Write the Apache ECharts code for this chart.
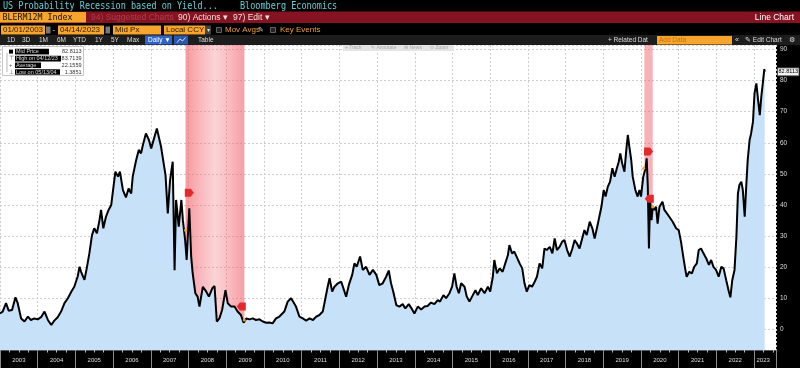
<!DOCTYPE html>
<html><head><meta charset="utf-8">
<script src="https://cdn.jsdelivr.net/npm/echarts@6/dist/echarts.min.js"></script>
<style>html,body{margin:0;padding:0;background:#000}#c{width:800px;height:368px}</style>
</head><body><div id="c"></div><script>
// ---- data (decimal years) ----
const dates = [
 2003.00,2003.07,2003.16,2003.23,2003.32,2003.41,2003.47,2003.56,2003.65,2003.74,2003.82,2003.91,
 2004.00,2004.09,2004.18,2004.27,2004.36,2004.44,2004.53,2004.62,2004.71,2004.80,2004.89,2004.97,
 2005.06,2005.11,2005.15,2005.24,2005.30,2005.37,2005.44,2005.50,2005.57,2005.64,2005.68,2005.74,2005.81,2005.88,2005.95,
 2006.01,2006.06,2006.13,2006.18,2006.26,2006.34,2006.41,2006.48,2006.52,2006.61,2006.68,2006.74,2006.80,2006.87,2006.95,
 2007.01,2007.05,2007.16,2007.27,2007.39,2007.45,2007.51,2007.58,2007.63,2007.67,2007.74,2007.81,2007.85,2007.91,2007.95,
 2008.02,2008.07,2008.11,2008.18,2008.24,2008.29,2008.38,2008.47,2008.54,2008.63,2008.69,2008.75,2008.82,2008.89,2008.98,
 2009.04,2009.13,2009.22,2009.30,2009.39,2009.46,2009.53,2009.62,2009.70,2009.79,2009.88,2009.97,
 2010.06,2010.15,2010.23,2010.32,2010.41,2010.54,2010.63,2010.72,2010.76,2010.85,2010.94,
 2011.03,2011.12,2011.21,2011.30,2011.39,2011.47,2011.56,2011.63,2011.69,2011.74,2011.81,2011.87,2011.96,
 2012.05,2012.09,2012.18,2012.25,2012.34,2012.40,2012.46,2012.55,2012.62,2012.71,2012.80,2012.89,2012.98,
 2013.06,2013.15,2013.24,2013.31,2013.37,2013.43,2013.51,2013.59,2013.68,2013.75,2013.84,2013.93,2013.99,
 2014.08,2014.17,2014.26,2014.34,2014.43,2014.52,2014.61,2014.67,2014.76,2014.83,2014.92,2014.99,
 2015.05,2015.11,2015.17,2015.23,2015.32,2015.38,2015.45,2015.54,2015.61,2015.67,2015.76,2015.85,2015.94,
 2016.00,2016.07,2016.11,2016.18,2016.25,2016.33,2016.40,2016.47,2016.51,2016.58,2016.64,2016.70,2016.78,2016.85,2016.91,2016.97,
 2017.04,2017.11,2017.18,2017.24,2017.31,2017.38,2017.44,2017.50,2017.58,2017.65,2017.71,2017.77,2017.84,2017.91,2017.97,
 2018.04,2018.11,2018.18,2018.24,2018.30,2018.37,2018.44,2018.50,2018.56,2018.64,2018.71,2018.77,2018.83,2018.90,2018.95,
 2019.01,2019.06,2019.12,2019.18,2019.24,2019.30,2019.36,2019.41,2019.45,2019.50,2019.56,2019.61,2019.65,2019.69,2019.74,2019.78,2019.85,2019.91,2019.96,
 2020.00,2020.06,2020.12,2020.15,2020.18,2020.21,2020.24,2020.28,2020.31,2020.36,2020.40,2020.44,2020.49,2020.57,2020.62,2020.66,2020.75,2020.84,2020.93,
 2021.00,2021.06,2021.12,2021.17,2021.21,2021.28,2021.35,2021.41,2021.48,2021.53,2021.59,2021.66,2021.73,2021.80,2021.86,2021.92,2021.99,
 2022.06,2022.13,2022.19,2022.26,2022.33,2022.37,2022.42,2022.48,2022.53,2022.57,2022.61,2022.66,2022.70,2022.75,2022.79,2022.83,2022.88,2022.92,2022.97,
 2023.01,2023.06,2023.10,2023.15,2023.19,2023.23,2023.27,2023.28
];
const values = [
 5.1,5.7,8.4,6.0,6.2,10.3,8.4,3.5,2.5,4.1,3.0,3.5,
 3.2,3.9,5.7,3.0,1.39,2.8,3.9,5.7,8.4,10.0,12.1,13.7,
 17.0,20.1,18.5,15.9,19.6,24.4,30.3,32.5,30.9,35.2,38.4,32.5,36.2,38.4,40.0,
 45.9,50.7,49.1,50.7,44.8,42.4,45.3,43.7,49.1,54.4,57.7,56.6,59.8,63.0,60.9,
 58.2,57.7,64.6,58.8,49.6,37.3,48.0,53.9,19.0,41.6,33.0,41.6,35.1,28.7,22.3,
 38.9,23.4,18.0,11.6,10.5,7.3,13.7,12.1,10.5,13.2,13.9,2.5,3.5,6.2,12.6,
 8.4,7.3,7.3,5.7,4.6,2.1,3.5,3.2,3.5,3.0,3.2,2.5,
 2.1,2.2,1.9,3.5,4.1,5.7,8.9,10.0,9.4,7.3,4.1,
 3.5,2.8,3.5,3.0,4.1,4.6,5.7,10.0,13.7,16.4,12.1,13.7,14.8,
 15.3,15.8,10.5,14.2,17.5,21.2,20.1,23.4,19.1,20.1,17.5,19.1,17.5,
 14.2,14.8,16.9,18.9,14.8,12.1,7.8,7.3,8.1,6.7,8.1,6.4,5.1,
 7.3,6.4,7.3,7.5,8.6,8.1,9.4,8.9,11.0,10.0,11.6,13.7,
 18.0,13.7,11.6,14.8,13.7,10.5,8.9,11.0,12.6,11.0,13.2,11.6,13.7,
 12.1,16.9,22.3,18.0,19.6,18.5,21.2,23.9,27.1,24.4,25.0,23.4,21.2,19.6,14.8,12.1,
 14.2,13.7,15.3,16.9,21.2,19.6,26.0,25.5,26.5,24.4,29.2,25.5,26.5,28.2,28.7,
 25.5,23.4,26.0,28.7,27.6,26.0,29.2,31.9,30.3,34.6,32.5,29.2,32.5,36.5,39.4,
 44.8,42.7,45.9,47.5,51.8,49.1,51.8,53.9,56.6,53.4,50.7,57.7,62.5,58.8,54.5,49.1,44.8,42.7,44.8,
 42.7,49.1,51.8,55.0,45.9,26.0,41.6,35.1,39.4,38.4,39.4,34.0,39.4,41.0,38.4,38.9,36.2,34.6,32.5,
 31.9,28.2,23.4,19.6,16.9,18.5,18.0,20.1,21.2,25.5,26.0,24.4,22.8,20.7,22.3,20.1,19.1,
 16.9,20.1,19.6,15.8,12.1,10.3,15.8,19.1,29.8,43.7,46.4,47.5,44.8,36.2,45.9,54.5,60.9,63.0,66.8,
 75.9,79.1,74.3,68.9,74.8,79.1,83.71,82.81
];
const yearLabels = [2003,2004,2005,2006,2007,2008,2009,2010,2011,2012,2013,2014,2015,2016,2017,2018,2019,2020,2021,2022,2023];
const yTickLabels = [0,10,20,30,40,50,60,70,80,90];
const recessions = [[2007.92, 2009.48], [2020.09, 2020.31]];
const eventFlags = [[2008.02, 43.9, 'r'], [2009.40, 7.3, 'l'], [2020.20, 57.2, 'r'], [2020.22, 42.0, 'l']];
const eventDots = [[2007.92, 31.9], [2009.48, 3.0], [2020.07, 51.8], [2020.31, 39.3]];
const legendRows = [['Mid Price', '82.8113'], ['High on 04/12/23', '83.7139'], ['Average', '22.1559'], ['Low on 05/13/04', '1.3851']];
const lastValue = 82.8113;
const lastDate = 2023.28;

const seriesData = dates.map((d, i) => [d, values[i]]);
const SANS = 'Liberation Sans, Arial, sans-serif';
const MONO = 'DejaVu Sans Mono, monospace';

const chart = echarts.init(document.getElementById('c'));
const bandGrad = new echarts.graphic.LinearGradient(0, 0, 1, 0, [
  {offset: 0, color: 'rgba(240,85,95,0.60)'},
  {offset: 0.5, color: 'rgba(242,110,120,0.30)'},
  {offset: 1, color: 'rgba(240,85,95,0.57)'}
]);
const RIGHT_FLAG = 'path://M0,0L6,0L9,4L6,8L0,8Z';
const LEFT_FLAG = 'path://M3,0L9,0L9,8L3,8L0,4Z';

chart.setOption({
  animation: false,
  backgroundColor: '#000',
  grid: {left: 0, right: 24, top: 45, bottom: 18, show: true, backgroundColor: '#fff', borderWidth: 0},
  xAxis: {
    type: 'value', min: 2003, max: 2023.58, interval: 1,
    axisLine: {show: true, onZero: false, lineStyle: {color: '#555'}},
    axisTick: {show: true, length: 18, lineStyle: {color: '#8a8a8a'}},
    minorTick: {show: true, splitNumber: 4, length: 2.5, lineStyle: {color: '#bbb'}},
    splitLine: {show: true, lineStyle: {color: '#cfcfcf', type: [2, 2], width: 1}},
    axisLabel: {
      margin: 7, color: '#ddd', fontSize: 6, fontFamily: SANS,
      formatter: v => {
        const y = Math.round(v);
        if (Math.abs(v - y) > 1e-6 || yearLabels.indexOf(y) < 0) return '';
        return y === 2023 ? '{b|' + y + '}' : '{a|' + y + '}';
      },
      rich: {
        a: {padding: [0, 0, 0, 37.7], color: '#ddd', fontSize: 6, fontFamily: SANS},
        b: {padding: [0, 0, 0, 18], color: '#ddd', fontSize: 6, fontFamily: SANS}
      }
    }
  },
  yAxis: {
    type: 'value', position: 'right', min: -6.66, max: 91.45, minInterval: 10, maxInterval: 10,
    axisLine: {show: false}, axisTick: {show: false},
    splitLine: {show: true, lineStyle: {color: '#cfcfcf', type: [2, 2], width: 1}},
    axisLabel: {
      margin: 4, color: '#ddd', fontSize: 6.5, fontFamily: SANS,
      formatter: v => {
        const r = Math.round(v);
        return (Math.abs(v - r) < 1e-6 && yTickLabels.indexOf(r) >= 0) ? String(r) : '';
      }
    }
  },
  series: [
    {type: 'line', name: 'fill', data: seriesData, symbol: 'none', silent: true, z: 1,
     lineStyle: {width: 0, color: '#c7e1f9'}, areaStyle: {color: '#c7e1f9', opacity: 1, origin: 'start'}},
    {type: 'line', name: 'recessions', data: [], symbol: 'none', z: 2,
     markArea: {silent: true, data: recessions.map((r, i) => [
       {xAxis: r[0], itemStyle: {color: i === 0 ? bandGrad : 'rgba(240,85,95,0.45)'}}, {xAxis: r[1]}])}},
    {type: 'line', name: 'BLERM12M', data: seriesData, symbol: 'none', z: 3,
     lineStyle: {color: '#000', width: 2},
     markPoint: {silent: true, label: {show: false}, data:
       eventFlags.map(f => ({coord: [f[0], f[1]], symbol: f[2] === 'r' ? RIGHT_FLAG : LEFT_FLAG, symbolSize: [9, 8],
                              itemStyle: {color: '#e5282c'}}))
       .concat(eventDots.map(d => ({coord: d, symbol: 'circle', symbolSize: 3, itemStyle: {color: '#f2a11f'}})))}}
  ]
});

// ---- header / decorations ----
function txt(x, y, text, size, color, opt) {
  opt = opt || {};
  return {type: 'text', x: x, y: y, scaleX: opt.sx || 1, z: 100, silent: true,
    style: {text: text, fill: color, font: size + 'px ' + (opt.font || SANS),
      align: opt.align || 'left', textAlign: opt.align || 'left', verticalAlign: 'middle', textVerticalAlign: 'middle'}};
}
function rect(x, y, w, h, fill, stroke) {
  return {type: 'rect', z: 99, silent: true, shape: {x: x, y: y, width: w, height: h},
    style: {fill: fill, stroke: stroke || null, lineWidth: stroke ? 0.8 : 0}};
}
const g = [];
g.push(rect(0, 0, 800, 11.5, '#000'));
g.push(rect(0, 11.5, 800, 11.5, '#861322'));
g.push(rect(0, 23, 800, 12, '#000'));
g.push(rect(0, 35, 800, 10, '#1d1d1d'));
g.push(txt(3, 6, 'US Probability Recession based on Yield...', 10, '#62cfd6', {font: MONO, sx: 0.85}));
g.push(txt(240, 6, 'Bloomberg Economics', 10, '#62cfd6', {font: MONO, sx: 0.85}));
g.push(rect(0, 12, 86, 10.5, '#f7a52d'));
g.push(txt(2.5, 17.5, 'BLERM12M Index', 9.5, '#111', {font: MONO, sx: 0.875}));
g.push(txt(91, 17.5, '94) Suggested Charts', 8.5, '#a8404f'));
g.push(txt(178, 17.5, '90) Actions \u25BE', 8.5, '#f3dede'));
g.push(txt(233, 17.5, '97) Edit \u25BE', 8.5, '#f3dede'));
g.push(txt(794, 17.5, 'Line Chart', 8.5, '#fff', {align: 'right'}));
// row 3
g.push(rect(1, 25.5, 44, 9, '#f7a52d')); g.push(txt(3, 30, '01/01/2003', 8, '#2a1800'));
g.push(rect(46, 26.5, 4.5, 7, '#777'));
g.push(txt(52.5, 30, '-', 8, '#ddd'));
g.push(rect(58, 25.5, 46, 9, '#f7a52d')); g.push(txt(60, 30, '04/14/2023', 8, '#2a1800'));
g.push(rect(105.5, 26.5, 4.5, 7, '#777'));
g.push(rect(113, 25.5, 48, 9, '#f7a52d')); g.push(txt(115, 30, 'Mid Px', 8, '#2a1800'));
g.push(rect(164, 25.5, 41, 9, '#f7a52d')); g.push(txt(166, 30, 'Local CCY', 8, '#2a1800'));
g.push(rect(205, 25.5, 6, 9, '#444')); g.push(txt(208, 30, '\u25BE', 6, '#ddd', {align: 'center'}));
g.push(rect(216.5, 27.5, 5, 5, '#222', '#777')); g.push(txt(225, 30, 'Mov Avgs', 8, '#f0a032')); g.push(txt(258, 30, '\u270E', 7, '#ccc'));
g.push(rect(270.5, 27.5, 5, 5, '#222', '#777')); g.push(txt(280, 30, 'Key Events', 8, '#f0a032'));
// row 4
[['1D', 7], ['3D', 22], ['1M', 39], ['6M', 57], ['YTD', 73], ['1Y', 95], ['5Y', 111], ['Max', 127]].forEach(b => g.push(txt(b[1], 40, b[0], 6.5, '#ddd')));
g.push(rect(145, 35.5, 27, 9, '#2e63c8')); g.push(txt(148, 40, 'Daily \u25BC', 6.5, '#fff'));
g.push(rect(174, 35.5, 14, 9, '#2a58b0'));
g.push({type: 'polyline', z: 100, silent: true, shape: {points: [[177, 42.5], [180, 39], [182.5, 41], [185.5, 37.5]]}, style: {stroke: '#fff', lineWidth: 0.8, fill: null}});
g.push(txt(198, 40, 'Table', 6.5, '#ddd'));
g.push(txt(608, 40, '+ Related Dat', 6.5, '#ddd'));
g.push(rect(657, 36, 75, 8.5, '#f7a52d')); g.push(txt(659, 40.2, 'Add Data', 6.5, '#c77412'));
g.push(txt(735, 40, '\u00AB', 7, '#ddd'));
g.push(txt(745, 40, '\u270E Edit Chart', 6.5, '#ddd'));
g.push(txt(789, 40, '\u2699', 7, '#ddd'));
// chart toolbar overlay
g.push(rect(343, 45, 111, 6, '#e4e4e4'));
g.push(txt(345, 48, '+ Track', 5, '#aaa'));
g.push(txt(371, 48, '\u270E Annotate', 5, '#aaa'));
g.push(txt(404, 48, '\u229E News', 5, '#aaa'));
g.push(txt(430, 48, '\u2299 Zoom', 5, '#aaa'));
// legend box
g.push(rect(2.5, 46.5, 81, 29, '#fff', '#b5b5b5'));
g.push({type: 'line', z: 100, silent: true, shape: {x1: 7, y1: 53, x2: 7, y2: 72}, style: {stroke: '#999', lineWidth: 0.7}});
const rowY = [51.6, 58.6, 65.3, 72];
const labW = [34, 46, 26, 45];
const syms = ['', '\u22A4', '+', '\u22A5'];
legendRows.forEach((r, i) => {
  if (i === 0) g.push(rect(9, rowY[i] - 2, 4, 4, '#000'));
  else g.push(txt(9, rowY[i], syms[i], 5.5, '#555'));
  g.push(rect(15, rowY[i] - 2.8, labW[i], 5.6, '#000'));
  g.push(txt(16, rowY[i], r[0], 5.5, '#ddd'));
  g.push(txt(81.5, rowY[i], r[1], 5.5, '#333', {align: 'right'}));
});
// last value tag on right axis
const py = chart.convertToPixel({xAxisIndex: 0, yAxisIndex: 0}, [lastDate, lastValue])[1];
g.push(rect(777.5, py - 4, 21.5, 8, '#f2f2f2', '#444'));
g.push(txt(788.3, py, lastValue.toFixed(4), 5.5, '#000', {align: 'center'}));
chart.setOption({graphic: {elements: g}});
</script></body></html>
